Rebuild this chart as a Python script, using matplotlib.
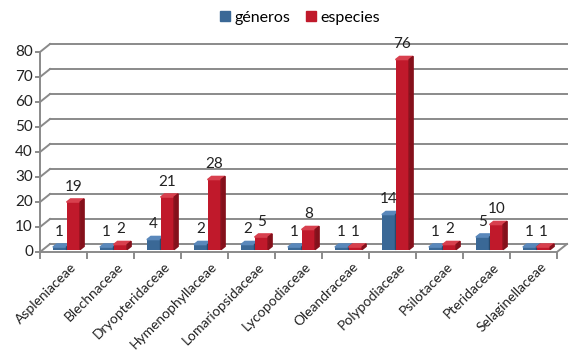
import matplotlib
matplotlib.use("Agg")
import matplotlib.pyplot as plt
from matplotlib.patches import Polygon, Patch

plt.rcParams['font.family'] = ['Lato', 'DejaVu Sans']

# datos
familias = ['Aspleniaceae', 'Blechnaceae', 'Dryopteridaceae', 'Hymenophyllaceae',
            'Lomariopsidaceae', 'Lycopodiaceae', 'Oleandraceae', 'Polypodiaceae',
            'Psilotaceae', 'Pteridaceae', 'Selaginellaceae']
generos = [1, 1, 4, 2, 2, 1, 1, 14, 1, 5, 1]
especies = [19, 2, 21, 28, 5, 8, 1, 76, 2, 10, 1]
yticks = [0, 10, 20, 30, 40, 50, 60, 70, 80]

W, H = 577, 354
fig = plt.figure(figsize=(W / 100, H / 100), dpi=100)
ax = fig.add_axes([40 / W, 1 - 252 / H, 517 / W, 200 / H])
n = len(familias)
ax.set_xlim(0, n)
ax.set_ylim(0, 80)
ax.axis('off')

# desplazamiento de profundidad (efecto 3D), en unidades de datos
DX = 10 / 47
DY = 8 / 2.5
gris = '#8a8a8a'

# pared de fondo: lineas de cuadricula y pared lateral
for v in yticks:
    ax.plot([DX, n + DX], [v + DY, v + DY], color=gris, lw=1.4, clip_on=False, zorder=1)
    ax.plot([0, DX], [v, v + DY], color=gris, lw=1.4, clip_on=False, zorder=1)
    ax.plot([-0.09, 0], [v, v], color=gris, lw=1.4, clip_on=False, zorder=1)
    ax.text(-0.15, v, str(v), ha='right', va='center', fontsize=11, color='#222222')

# piso
ax.plot([0, n, n + DX], [0, 0, DY], color=gris, lw=1.4, clip_on=False, zorder=1)
ax.plot([0, 0], [0, 80], color=gris, lw=1.4, clip_on=False, zorder=1)
for k in range(n + 1):
    ax.plot([k, k], [0, -2.2], color=gris, lw=1.4, clip_on=False, zorder=1)

# barras
d0, d1 = 0.3, 0.7
bw = 0.29
colores = [('#3a6896', '#5a88bb', '#27496d'), ('#c0192b', '#d8404e', '#85101b')]
z = 2
for i in range(n):
    for j, serie in enumerate([generos, especies]):
        v = serie[i]
        front, top_c, side_c = colores[j]
        x0 = i + 0.5 - bw + j * bw + d0 * DX
        y0 = d0 * DY
        yt = v + y0
        dx = (d1 - d0) * DX
        dy = (d1 - d0) * DY
        ax.bar(x0, v, bw, bottom=y0, align='edge', color=front, zorder=z, clip_on=False)
        ax.add_patch(Polygon([(x0, yt), (x0 + bw, yt), (x0 + bw + dx, yt + dy), (x0 + dx, yt + dy)],
                             closed=True, color=top_c, zorder=z, clip_on=False))
        ax.add_patch(Polygon([(x0 + bw, y0), (x0 + bw, yt), (x0 + bw + dx, yt + dy), (x0 + bw + dx, y0 + dy)],
                             closed=True, color=side_c, zorder=z, clip_on=False))
        z += 1
        ax.annotate(str(v), (x0 + bw / 2, yt), xytext=(0, 11), textcoords='offset points',
                    ha='center', va='center', fontsize=11, color='#222222', zorder=50)

# etiquetas de categorias
for i, nombre in enumerate(familias):
    ax.text(i + 0.64, -3.4, nombre, rotation=45, ha='right', va='top',
            rotation_mode='anchor', fontsize=10, color='#222222')

# leyenda
handles = [Patch(color=colores[0][0], label='géneros'), Patch(color=colores[1][0], label='especies')]
fig.legend(handles=handles, loc='upper center', bbox_to_anchor=(0.52, 1.01), ncol=2,
           frameon=False, fontsize=11.5, handlelength=0.6, handleheight=0.6,
           handletextpad=0.3, columnspacing=1.0)

fig.savefig('out.png', dpi=100)
